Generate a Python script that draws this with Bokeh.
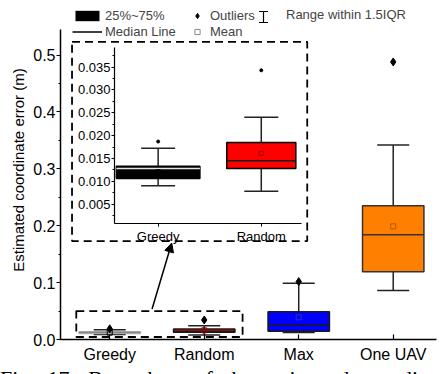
import numpy as np
from bokeh.plotting import figure
from bokeh.models import (Range1d, FixedTicker, SingleIntervalTicker, PrintfTickFormatter,
                          ColumnDataSource, Whisker, TeeHead, BoxAnnotation, Arrow,
                          NormalHead, Legend, LegendItem, Div)
from bokeh.layouts import column
from bokeh.embed import file_html
from bokeh.resources import INLINE

# ---------------- data ----------------
cats = ["Greedy", "Random", "Max", "One UAV"]
q1 = [0.0106, 0.0128, 0.0146, 0.119]
med = [0.0128, 0.0145, 0.0250, 0.184]
q3 = [0.0133, 0.0185, 0.0486, 0.235]
mean = [0.0121, 0.0161, 0.0390, 0.199]
lo = [0.0090, 0.0078, 0.0123, 0.086]
hi = [0.0172, 0.0240, 0.0988, 0.342]
outlier = [0.0187, 0.0343, 0.1018, 0.488]
inset_n = 2  # Greedy and Random are zoomed in the inset

y_axis_max = 0.545
caption = "Fig. 17: Box chart of the estimated coordinate"

# ---------------- style ----------------
FONT = "Liberation Sans"
fills = ["#000000", "#ff0000", "#0000ff", "#ff8000"]
main_lines = ["#aaaaaa", "#1a1a1a", "#1a1a1a", "#333333"]
main_med = ["#888888", "#1a1a1a", "#1a1a1a", "#333333"]
mean_cols = ["#000000", "#990000", "#3333aa", "#b35900"]
BW = 0.65
inset_bw = [0.81, 0.67]
inset_med = ["#e6e6e6", "#1a1a1a"]

xs = [i + 1 for i in range(len(cats))]


def src_for(n, widths, medcols, lines):
    x = xs[:n]
    return ColumnDataSource(dict(
        x=x, q1=q1[:n], q3=q3[:n], med=med[:n], mean=mean[:n], lo=lo[:n], hi=hi[:n],
        out=outlier[:n], w=widths, fill=fills[:n], line=lines, medc=medcols,
        mc=mean_cols[:n],
        mx0=[xi - wi / 2 for xi, wi in zip(x, widths)],
        mx1=[xi + wi / 2 for xi, wi in zip(x, widths)],
    ))


def draw_boxes(fig, src, cap, out_marker, out_size, mean_size):
    fig.add_layout(Whisker(source=src, base="x", upper="hi", lower="lo", dimension="height",
                           level="underlay", line_color="#222222", line_width=1.5,
                           upper_head=TeeHead(size=cap, line_color="#222222", line_width=1.5),
                           lower_head=TeeHead(size=cap, line_color="#222222", line_width=1.5)))
    fig.vbar(x="x", width="w", bottom="q1", top="q3", fill_color="fill",
             line_color="line", line_width=1.5, source=src)
    fig.segment(x0="mx0", x1="mx1", y0="med", y1="med", line_color="medc",
                line_width=1.5, source=src)
    fig.scatter(x="x", y="mean", marker="square", size=mean_size, fill_color=None,
                line_color="mc", line_width=1, source=src)
    return fig.scatter(x="x", y="out", marker=out_marker, size=out_size, fill_color="black",
                       line_color="black", source=src)


# ---------------- main figure ----------------
# frame reaches the top of the canvas so the legend (inside the frame) is not clipped;
# the y axis itself is bounded to [0, y_axis_max]
p = figure(width=442, height=374, x_range=Range1d(0.479, 4.458),
           y_range=Range1d(0, y_axis_max * 339 / 310),
           output_backend="svg", toolbar_location=None,
           min_border_left=60, min_border_right=0, min_border_top=0, min_border_bottom=35,
           outline_line_color=None, background_fill_color="white", border_fill_color="white")
p.grid.visible = False

main_src = src_for(len(cats), [BW] * len(cats), main_med, main_lines)
r_out = draw_boxes(p, main_src, 32, "diamond", 8, 5)

p.xaxis.ticker = FixedTicker(ticks=xs, minor_ticks=[])
p.xaxis.major_label_overrides = {x: c for x, c in zip(xs, cats)}
p.xaxis.major_tick_in = 5
p.xaxis.major_tick_out = 0
p.xaxis.major_label_standoff = 6
p.yaxis.bounds = (0, y_axis_max)
p.yaxis.ticker = SingleIntervalTicker(interval=0.1, num_minor_ticks=2)
p.yaxis.formatter = PrintfTickFormatter(format="%.1f")
p.yaxis.major_tick_out = 4
p.yaxis.major_tick_in = 0
p.yaxis.minor_tick_out = 2
p.yaxis.minor_tick_in = 0
p.yaxis.major_label_standoff = 1
p.yaxis.axis_label = "Estimated coordinate error (m)"
p.yaxis.axis_label_standoff = 3
p.yaxis.axis_label_text_font = FONT
p.yaxis.axis_label_text_font_size = "15px"
p.yaxis.axis_label_text_font_style = "normal"
p.yaxis.axis_label_text_color = "black"
for ax in (p.xaxis, p.yaxis):
    ax.axis_line_width = 1.5
    ax.axis_line_color = "black"
    ax.major_tick_line_color = "black"
    ax.major_tick_line_width = 1.2
    ax.minor_tick_line_color = "black"
    ax.major_label_text_font = FONT
    ax.major_label_text_font_size = "16px"
    ax.major_label_text_color = "black"

# zoom boxes and arrow (annotation layout positions)
box_style = dict(fill_alpha=0, line_color="black", line_alpha=1, line_width=1.8, line_dash="8 5")
p.add_layout(BoxAnnotation(left=0.646, right=2.406, bottom=0.0044, top=0.050, **box_style))
p.add_layout(BoxAnnotation(left=0.601, right=3.09, bottom=0.1731, top=0.5234, **box_style))
p.add_layout(Arrow(x_start=1.448, y_start=0.0536, x_end=1.656, y_end=0.1696, line_width=1.5,
                   end=NormalHead(size=9, fill_color="black", line_color="black", line_width=1)))

# legend-only renderers (zero-size / zero-height, so nothing shows in the plot)
dummy = ColumnDataSource(dict(x=[xs[0]], y=[q1[0]]))
r_box = p.vbar(x="x", top="y", bottom="y", width=0.01, source=dummy,
               fill_color="black", line_color=None)
r_med = p.line(x="x", y="y", source=dummy, line_color="black", line_width=1.5)
r_mean = p.scatter(x="x", y="y", source=dummy, marker="square", size=0,
                   fill_color=None, line_color="#888888", line_width=1)
r_rng = p.scatter(x="x", y="y", source=dummy, marker="dash", size=0,
                  line_color="black", line_alpha=0)

leg_common = dict(orientation="vertical", glyph_height=13, label_height=13, spacing=1,
                  padding=0, margin=0, border_line_color=None, background_fill_alpha=0,
                  label_text_font=FONT, label_text_font_size="13px")
p.add_layout(Legend(items=[LegendItem(label="25%~75%", renderers=[r_box]),
                           LegendItem(label="Median Line", renderers=[r_med])],
                    location=(12, 300), glyph_width=30, label_standoff=3, **leg_common))
p.add_layout(Legend(items=[LegendItem(label="Outliers", renderers=[r_out], index=0),
                           LegendItem(label="Mean", renderers=[r_mean])],
                    location=(130, 300), glyph_width=14, label_standoff=6, **leg_common))
p.add_layout(Legend(items=[LegendItem(label="Range within 1.5IQR", renderers=[r_rng])],
                    location=(196, 317), glyph_width=14, label_standoff=16, **leg_common))
# I-beam legend symbol for the whisker range (screen position inside the legend)
ibeam = ColumnDataSource(dict(b=[203], lo=[317], hi=[328]))
p.add_layout(Whisker(source=ibeam, base="b", lower="lo", upper="hi", dimension="height",
                     base_units="screen", lower_units="screen", upper_units="screen",
                     line_color="black", line_width=1.2,
                     upper_head=TeeHead(size=9, line_color="black", line_width=1.2),
                     lower_head=TeeHead(size=9, line_color="black", line_width=1.2)))

# ---------------- inset figure ----------------
ip = figure(width=253, height=213, x_range=Range1d(0.577, 2.39), y_range=Range1d(0.00074, 0.0393),
            output_backend="svg", toolbar_location=None,
            min_border_left=50, min_border_right=6, min_border_top=10, min_border_bottom=27,
            outline_line_color=None, background_fill_color=None, border_fill_color=None,
            styles={"position": "absolute", "left": "54px", "top": "37px"})
ip.grid.visible = False
inset_src = src_for(inset_n, inset_bw, inset_med, ["#000000"] * inset_n)
draw_boxes(ip, inset_src, 34, "circle", 3, 4)

ip.xaxis.ticker = FixedTicker(ticks=xs[:inset_n], minor_ticks=[])
ip.xaxis.major_label_overrides = {x: c for x, c in zip(xs[:inset_n], cats[:inset_n])}
ip.xaxis.major_tick_out = 3
ip.xaxis.major_tick_in = 0
ip.xaxis.major_label_standoff = 2
ip.yaxis.ticker = SingleIntervalTicker(interval=0.005, num_minor_ticks=2)
ip.yaxis.formatter = PrintfTickFormatter(format="%.3f")
ip.yaxis.major_tick_out = 3
ip.yaxis.major_tick_in = 0
ip.yaxis.minor_tick_out = 2
ip.yaxis.minor_tick_in = 0
ip.yaxis.major_label_standoff = 1
for ax in (ip.xaxis, ip.yaxis):
    ax.axis_line_width = 1.2
    ax.axis_line_color = "black"
    ax.major_tick_line_color = "black"
    ax.minor_tick_line_color = "black"
    ax.major_label_text_font = FONT
    ax.major_label_text_font_size = "13px"
    ax.major_label_text_color = "black"

# ---------------- caption (runs off the bottom edge, as in the source figure) ----------------
cap = Div(text=caption, width=447, height=13,
          styles={"position": "absolute", "left": "-5px", "top": "361px", "overflow": "hidden",
                  "font-family": "Liberation Serif", "font-size": "22px", "line-height": "25px",
                  "word-spacing": "7.2px", "white-space": "nowrap", "color": "black"})

layout = column(p, ip, cap, styles={"position": "relative"})
open("out.html", "w").write(file_html(layout, INLINE))
